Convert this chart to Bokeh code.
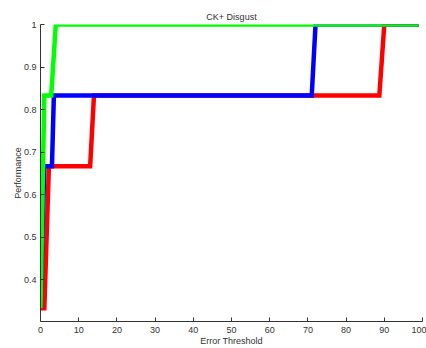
from bokeh.plotting import figure
from bokeh.models import FixedTicker, CustomJSTickFormatter, ColumnDataSource
from bokeh.embed import file_html
from bokeh.resources import INLINE

# ---- data ----
title_text = "CK+ Disgust"
x_label = "Error Threshold"
y_label = "Performance"

red_x = [0, 1, 2.2, 13, 14, 88.7, 90, 99]
red_y = [0.333, 0.333, 0.667, 0.667, 0.833, 0.833, 1.0, 1.0]

blue_x = [0, 1, 3, 3.5, 71, 72, 99]
blue_y = [0.333, 0.667, 0.667, 0.833, 0.833, 1.0, 1.0]

green_x = [0, 1, 2.8, 4, 99]
green_y = [0.333, 0.833, 0.833, 1.0, 1.0]

x_ticks = [0, 10, 20, 30, 40, 50, 60, 70, 80, 90, 100]
y_ticks = [0.4, 0.5, 0.6, 0.7, 0.8, 0.9, 1.0]

series = [
    (red_x, red_y, "#ff0000"),
    (blue_x, blue_y, "#0000ff"),
    (green_x, green_y, "#00ff00"),
]

FONT = "Liberation Sans"
TXT = "#333333"

p = figure(width=426, height=348, output_backend="svg", toolbar_location=None,
           x_range=(0, 100), y_range=(0.302, 1.0),
           min_border_left=40, min_border_right=4, min_border_top=24, min_border_bottom=24,
           title=title_text)

for xs, ys, col in series:
    src = ColumnDataSource(dict(x=xs, y=ys))
    p.line("x", "y", source=src, line_color=col, line_width=4.5, line_join="miter")

p.title.align = "center"
p.title.text_font = FONT
p.title.text_font_size = "9px"
p.title.text_font_style = "normal"
p.title.text_color = TXT
p.title.standoff = 6

p.xgrid.grid_line_color = None
p.ygrid.grid_line_color = None
p.outline_line_color = None
p.background_fill_color = "white"
p.border_fill_color = "white"

p.xaxis.ticker = FixedTicker(ticks=x_ticks)
p.yaxis.ticker = FixedTicker(ticks=y_ticks)
p.yaxis.formatter = CustomJSTickFormatter(code="return tick > 0.999 ? '1' : tick.toFixed(1);")

for ax in (p.xaxis[0], p.yaxis[0]):
    ax.axis_line_color = TXT
    ax.major_tick_line_color = TXT
    ax.major_tick_in = 4
    ax.major_tick_out = 0
    ax.minor_tick_line_color = None
    ax.major_label_text_font = FONT
    ax.major_label_text_font_size = "9px"
    ax.major_label_text_color = TXT
    ax.axis_label_text_font = FONT
    ax.axis_label_text_font_size = "9px"
    ax.axis_label_text_font_style = "normal"
    ax.axis_label_text_color = TXT

p.xaxis.axis_label = x_label
p.yaxis.axis_label = y_label
p.xaxis.major_label_standoff = 5
p.xaxis.axis_label_standoff = 0
p.yaxis.major_label_standoff = 4
p.yaxis.axis_label_standoff = -2

open("out.html", "w").write(file_html(p, INLINE))
